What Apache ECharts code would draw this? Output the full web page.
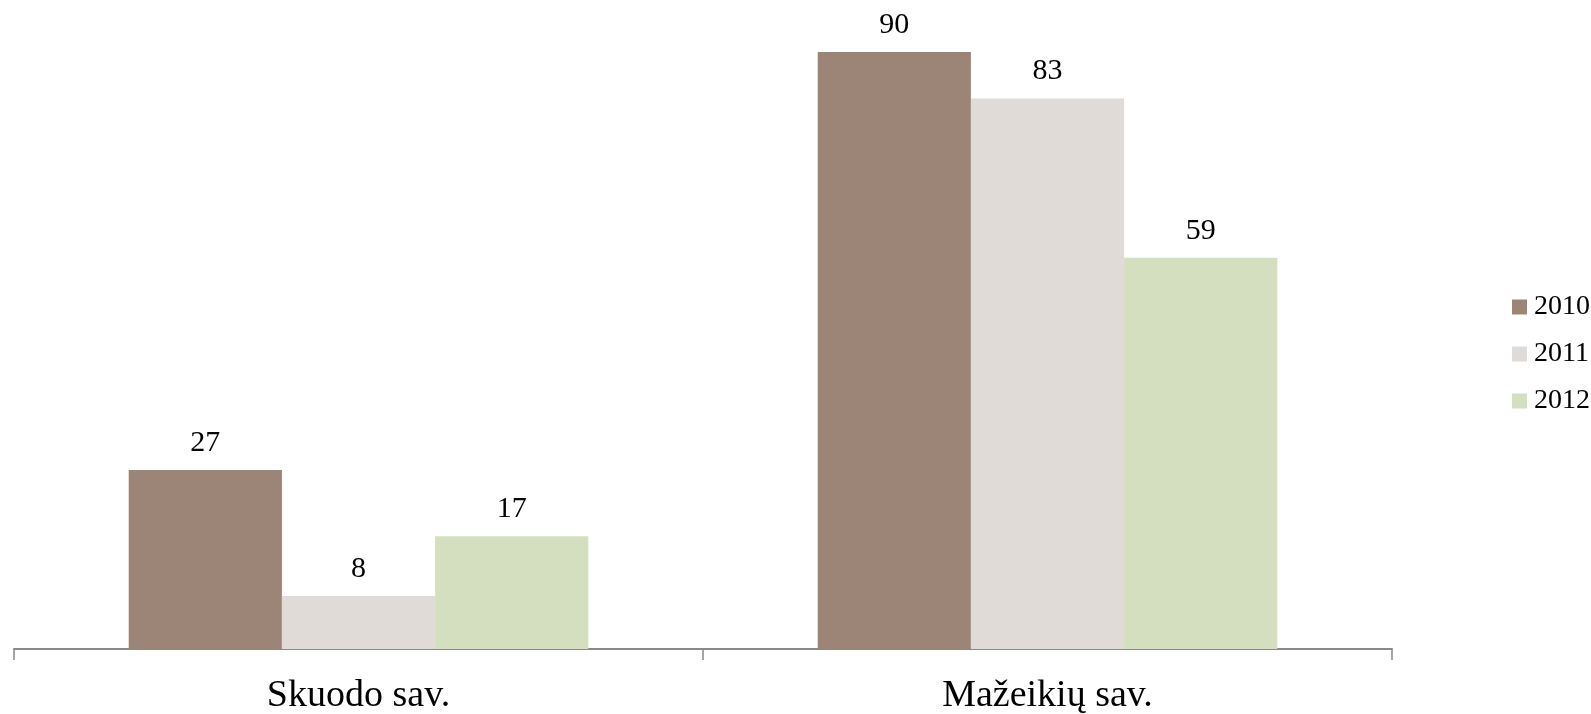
<!DOCTYPE html>
<html>
<head>
<meta charset="utf-8">
<script src="https://cdn.jsdelivr.net/npm/echarts@6/dist/echarts.min.js"></script>
<style>
html,body{margin:0;padding:0;background:#fff;}
#main{width:1591px;height:714px;}
</style>
</head>
<body>
<div id="main"></div>
<script>
const categories = ['Skuodo sav.', 'Mažeikių sav.'];
const seriesNames = ['2010', '2011', '2012'];
const values2010 = [27, 90];
const values2011 = [8, 83];
const values2012 = [17, 59];
const colors = ['#9C8576', '#E0DBD7', '#D3DFBF'];

const font = '"Liberation Serif", serif';
const allValues = [values2010, values2011, values2012];

const chart = echarts.init(document.getElementById('main'));
chart.setOption({
  animation: false,
  backgroundColor: '#ffffff',
  grid: { left: 14, right: 199, top: 52, bottom: 65, containLabel: false, outerBoundsMode: 'none' },
  legend: {
    orient: 'vertical',
    left: 1507,
    top: 288,
    icon: 'rect',
    itemWidth: 15,
    itemHeight: 15,
    itemGap: 19,
    textStyle: { fontFamily: font, fontSize: 28, color: '#000', padding: [0, 0, 0, 2] },
    data: seriesNames
  },
  xAxis: {
    type: 'category',
    data: categories,
    axisLine: { show: true, lineStyle: { color: '#898989', width: 2 } },
    axisTick: { show: true, length: 11, lineStyle: { color: '#898989', width: 1.5 } },
    axisLabel: { fontFamily: font, fontSize: 38, color: '#000', margin: 28 }
  },
  yAxis: {
    type: 'value',
    min: 0,
    max: 90,
    show: false,
    splitLine: { show: false }
  },
  series: seriesNames.map((name, i) => ({
    name: name,
    type: 'bar',
    data: allValues[i],
    barGap: '0%',
    barCategoryGap: '33.3%',
    itemStyle: { color: colors[i] },
    label: {
      show: true,
      position: 'top',
      distance: 12,
      fontFamily: font,
      fontSize: 30,
      color: '#000'
    }
  }))
});
</script>
</body>
</html>
